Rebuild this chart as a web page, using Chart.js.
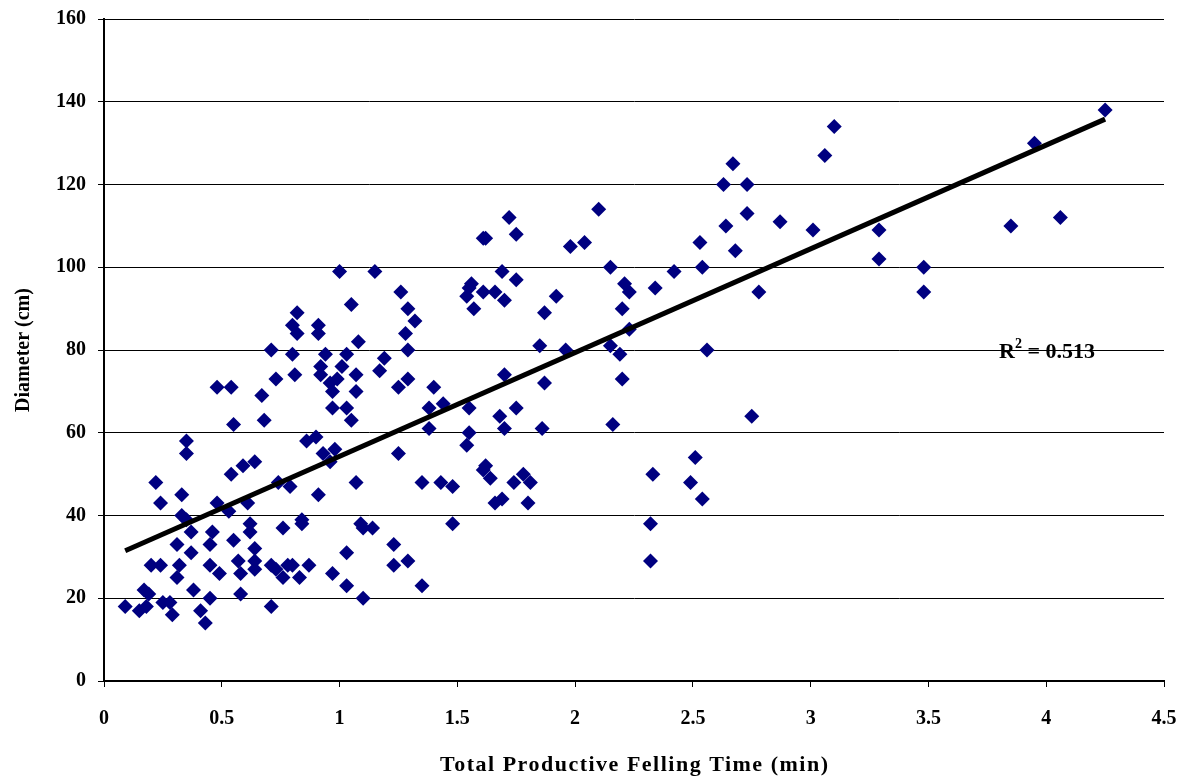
<!DOCTYPE html>
<html>
<head>
<meta charset="utf-8">
<script src="https://cdn.jsdelivr.net/npm/chart.js@4.4.0/dist/chart.umd.min.js"></script>
<style>
html,body{margin:0;padding:0;background:#fff;}
#wrap{width:1188px;height:781px;position:relative;}
</style>
</head>
<body>
<div id="wrap"><canvas id="c" width="1188" height="781"></canvas></div>
<script>
// Observed data: felling time (min) vs diameter (cm)
const timeMin = [0.09,0.15,0.17,0.18,0.19,0.20,0.22,0.24,0.24,0.25,0.28,0.29,0.31,0.31,0.32,0.33,0.33,0.35,0.35,0.35,0.37,0.37,0.38,0.41,0.43,0.45,0.45,0.45,0.46,0.48,0.48,0.49,0.53,0.54,0.54,0.55,0.55,0.57,0.58,0.58,0.59,0.61,0.62,0.62,0.64,0.64,0.64,0.64,0.67,0.68,0.71,0.71,0.71,0.73,0.73,0.74,0.76,0.76,0.78,0.79,0.80,0.80,0.80,0.81,0.82,0.82,0.83,0.84,0.84,0.86,0.87,0.90,0.91,0.91,0.91,0.92,0.92,0.93,0.94,0.96,0.96,0.97,0.97,0.97,0.98,0.99,1.00,1.01,1.03,1.03,1.03,1.03,1.05,1.05,1.07,1.07,1.07,1.08,1.09,1.10,1.10,1.14,1.15,1.17,1.19,1.23,1.23,1.25,1.25,1.26,1.28,1.29,1.29,1.29,1.29,1.32,1.35,1.35,1.38,1.38,1.40,1.43,1.44,1.48,1.48,1.54,1.55,1.54,1.55,1.55,1.56,1.57,1.61,1.62,1.61,1.62,1.61,1.64,1.66,1.66,1.68,1.69,1.69,1.70,1.70,1.70,1.72,1.74,1.75,1.75,1.75,1.78,1.80,1.81,1.85,1.86,1.87,1.87,1.92,1.96,1.98,2.04,2.10,2.15,2.15,2.16,2.19,2.20,2.20,2.21,2.23,2.23,2.32,2.32,2.33,2.34,2.42,2.49,2.51,2.53,2.54,2.54,2.56,2.63,2.64,2.67,2.68,2.73,2.73,2.75,2.78,2.87,3.01,3.06,3.10,3.29,3.29,3.48,3.48,3.85,3.95,4.06,4.25];
const diameterCm = [18,17,22,18,21,28,48,43,28,19,19,16,33,25,28,45,40,58,55,39,36,31,22,17,14,33,28,20,36,43,71,26,41,50,71,62,34,29,26,21,52,43,38,36,53,32,29,27,69,63,80,28,18,73,27,48,37,25,28,47,86,79,28,74,89,84,25,39,38,58,28,59,86,84,45,76,74,55,79,72,53,70,66,26,56,73,99,76,79,66,31,23,91,63,74,70,48,82,38,37,20,37,99,75,78,33,28,71,55,94,84,90,80,73,29,87,48,23,66,61,71,48,67,47,38,93,95,57,66,60,96,90,107,107,94,52,51,49,94,43,64,99,44,92,74,61,112,48,108,97,66,50,43,48,81,61,89,72,93,80,105,106,114,100,81,62,79,90,73,96,94,85,38,29,50,95,99,48,54,106,100,44,80,120,110,125,104,120,113,64,94,111,109,127,134,109,102,100,94,110,130,112,138];

// Linear trend line endpoints (as drawn in the reference)
const trendX = [0.09, 4.25];
const trendY = [31.5, 135.8];
const r2Label = "R² = 0.513";
const r2Pos = {x: 3.80, y: 79.5};

const xTicks = [0,0.5,1,1.5,2,2.5,3,3.5,4,4.5];
const yTicks = [0,20,40,60,80,100,120,140,160];
const xTitle = "Total Productive Felling Time (min)";
const yTitle = "Diameter (cm)";

const FONT = "'Liberation Serif','Times New Roman',serif";

const scatterData = timeMin.map((t,i)=>({x:t, y:diameterCm[i]}));
const trendData = trendX.map((t,i)=>({x:t, y:trendY[i]}));

const textPlugin = {
  id:'texts',
  afterDraw(chart){
    const {ctx, scales, chartArea} = chart;
    ctx.save();
    ctx.fillStyle = '#000';
    ctx.textBaseline = 'middle';
    // R² annotation
    const px = scales.x.getPixelForValue(r2Pos.x);
    const py = scales.y.getPixelForValue(r2Pos.y);
    ctx.textAlign = 'left';
    ctx.font = "bold 22px " + FONT;
    ctx.fillText("R", px, py);
    let w = ctx.measureText("R").width;
    ctx.font = "bold 14px " + FONT;
    ctx.fillText("2", px + w, py - 8);
    let w2 = ctx.measureText("2").width;
    ctx.font = "bold 22px " + FONT;
    ctx.fillText(r2Label.slice(2), px + w + w2, py);
    // X axis title, slightly stretched to the reference width
    ctx.font = "bold 22px " + FONT;
    const target = 388;
    const natural = ctx.measureText(xTitle).width;
    const spacing = Math.max(0, (target - natural) / (xTitle.length - 1));
    try { ctx.letterSpacing = spacing.toFixed(2) + 'px'; } catch(e) {}
    const measured = ctx.measureText(xTitle).width;
    ctx.textAlign = 'left';
    const cx = (chartArea.left + chartArea.right) / 2;
    ctx.fillText(xTitle, cx - measured / 2 + spacing/2, 765);
    ctx.restore();
  }
};

new Chart(document.getElementById('c'), {
  type:'scatter',
  data:{
    datasets:[
      {
        label:'Observed',
        data:scatterData,
        pointStyle:'rectRot',
        pointRadius:7.5,
        pointHoverRadius:7.5,
        backgroundColor:'#000080',
        borderColor:'#000080',
        borderWidth:0,
        order:2
      },
      {
        label:'Linear',
        type:'line',
        data:trendData,
        borderColor:'#000',
        borderWidth:5,
        pointRadius:0,
        fill:false,
        order:1
      }
    ]
  },
  options:{
    responsive:false,
    animation:false,
    events:[],
    layout:{padding:{left:8, right:24, top:19, bottom:4}},
    plugins:{
      legend:{display:false},
      tooltip:{enabled:false}
    },
    scales:{
      x:{
        type:'linear',
        min:0, max:4.5,
        afterBuildTicks(s){ s.ticks = xTicks.map(v=>({value:v})); },
        afterFit(s){ s.height = 96; s.paddingLeft = 0; s.paddingRight = 0; },
        border:{display:true, color:'#000', width:2},
        grid:{drawOnChartArea:false, drawTicks:true, tickLength:6, color:'#000', lineWidth:1},
        ticks:{color:'#000', font:{family:FONT, size:20, weight:'bold'}, padding:20, maxRotation:0,
          callback:(v)=>String(v)},
        title:{display:false}
      },
      y:{
        type:'linear',
        min:0, max:160,
        afterBuildTicks(s){ s.ticks = yTicks.map(v=>({value:v})); },
        afterFit(s){ s.width = 96; s.paddingTop = 0; s.paddingBottom = 0; },
        border:{display:true, color:'#000', width:2},
        grid:{drawOnChartArea:true, drawTicks:true, tickLength:6, color:'#000', lineWidth:1},
        ticks:{color:'#000', font:{family:FONT, size:20, weight:'bold'}, padding:12,
          callback:(v)=>String(v)},
        title:{display:true, text:yTitle, color:'#000', font:{family:FONT, size:20, weight:'bold'}, padding:{bottom:12}}
      }
    }
  },
  plugins:[textPlugin]
});
</script>
</body>
</html>
